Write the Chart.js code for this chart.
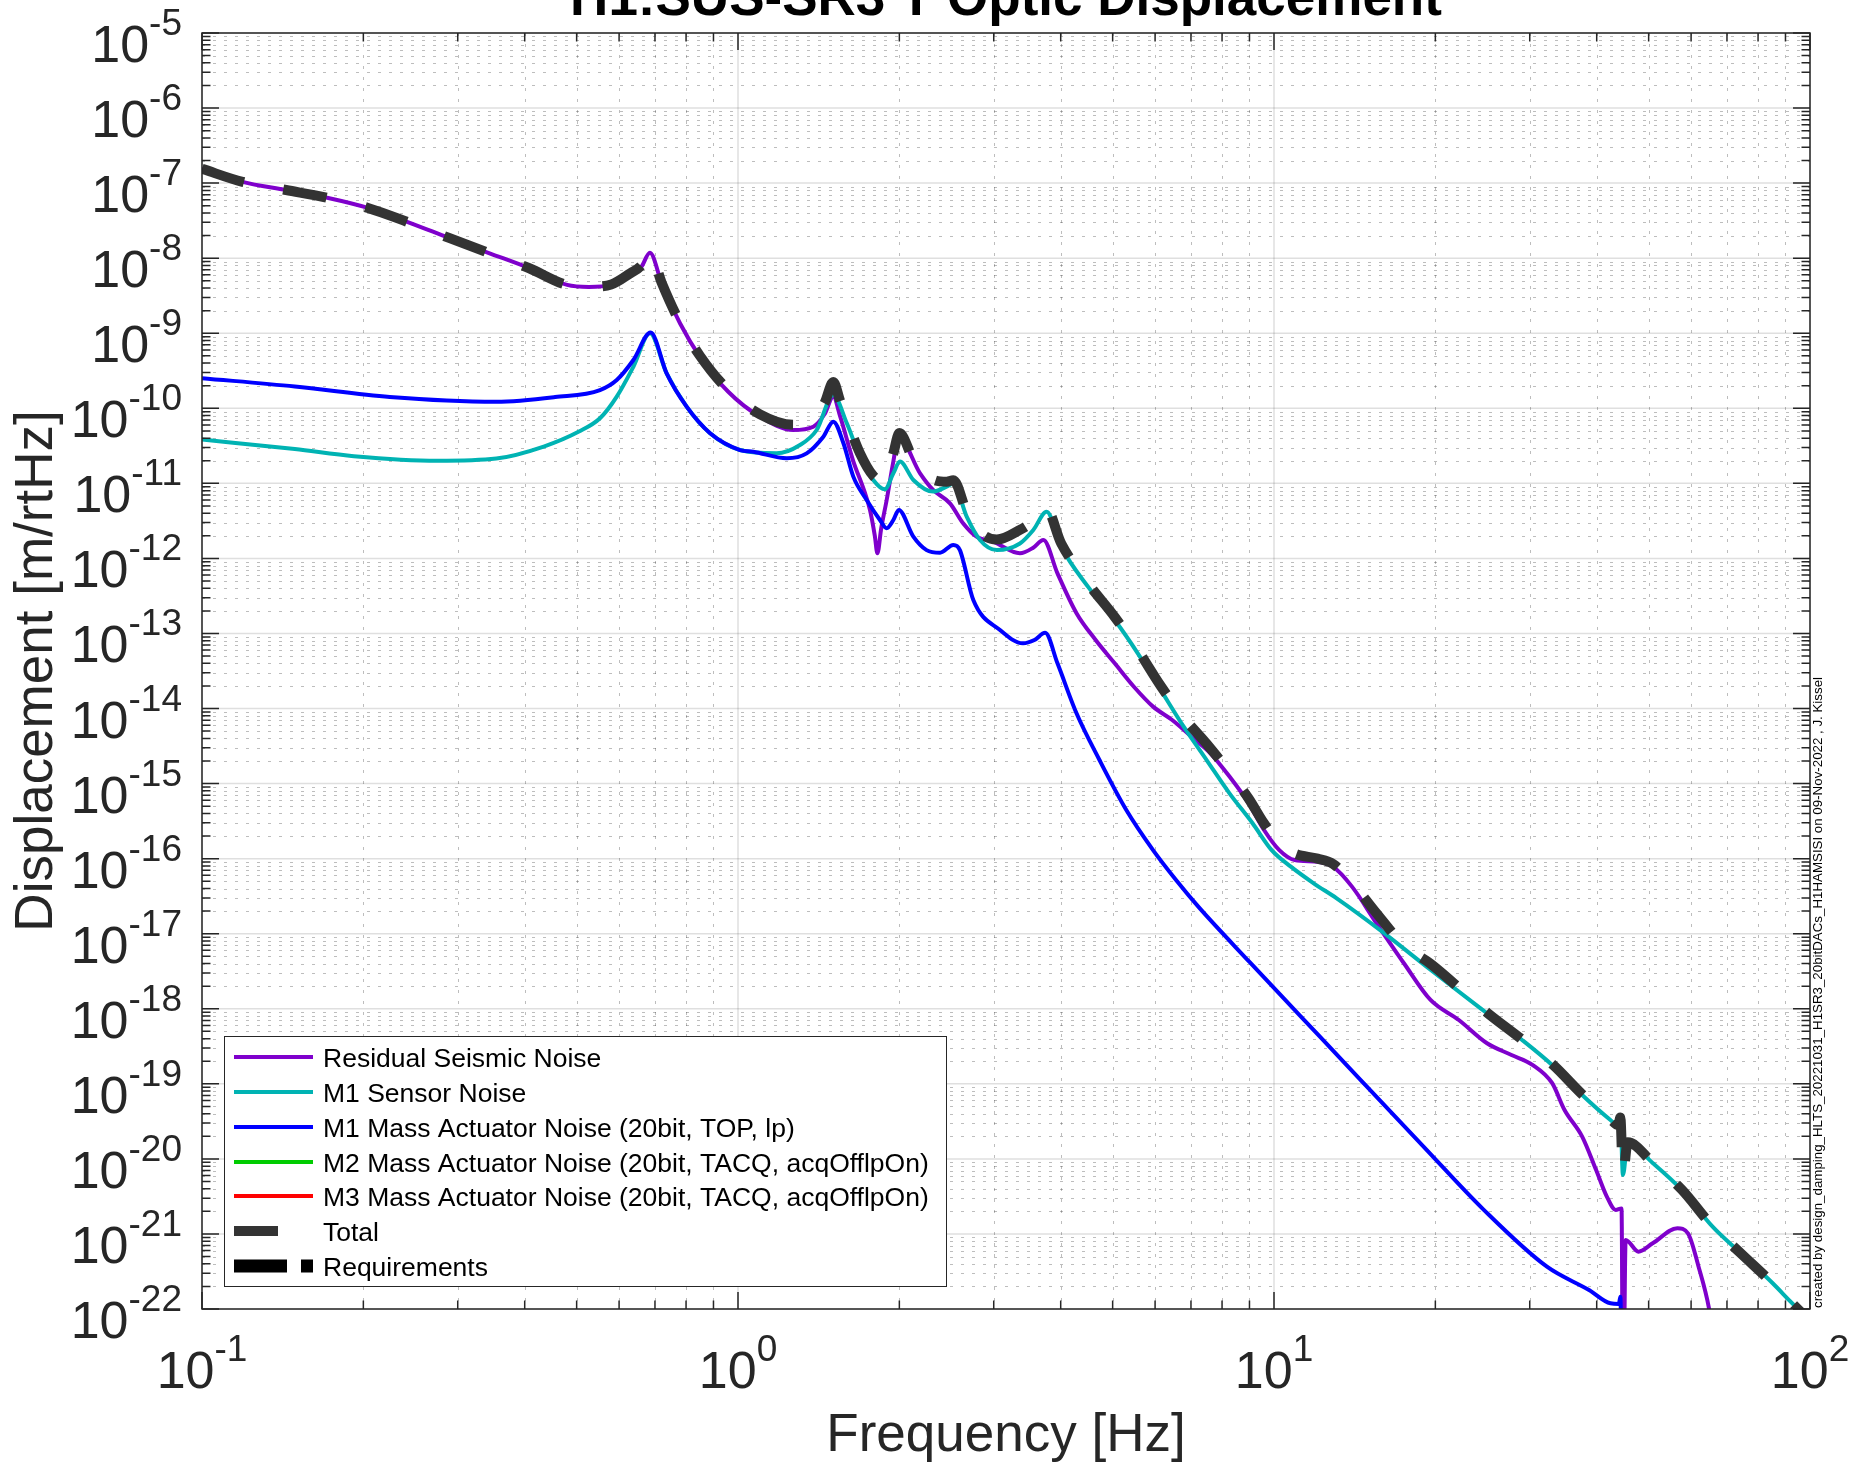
<!DOCTYPE html>
<html>
<head>
<meta charset="utf-8">
<script src="https://cdn.jsdelivr.net/npm/chart.js@4.4.0/dist/chart.umd.min.js"></script>
<style>
html,body{margin:0;padding:0;background:#ffffff;}
canvas{display:block;}
</style>
</head>
<body>
<canvas id="c" width="1853" height="1463"></canvas>
<script>
// ---------- text ----------
const titleText = 'H1:SUS-SR3 T Optic Displacement';
const xAxisLabel = 'Frequency [Hz]';
const yAxisLabel = 'Displacement [m/rtHz]';
const creditText = 'created by design_damping_HLTS_20221031_H1SR3_20bitDACs_H1HAMSISI on 09-Nov-2022 , J. Kissel';
const seriesLabels = [
  'Residual Seismic Noise',
  'M1 Sensor Noise',
  'M1 Mass Actuator Noise (20bit, TOP, lp)',
  'M2 Mass Actuator Noise (20bit, TACQ, acqOfflpOn)',
  'M3 Mass Actuator Noise (20bit, TACQ, acqOfflpOn)',
  'Total',
  'Requirements'
];
// tick label exponents (labels are 10^n)
const xTickExponents = [-1, 0, 1, 2];
const yTickExponents = [-22,-21,-20,-19,-18,-17,-16,-15,-14,-13,-12,-11,-10,-9,-8,-7,-6,-5];

// ---------- data (frequency in Hz, displacement in m/rtHz) ----------
const residualFreq = [0.1,0.119,0.1435,0.172,0.204,0.242,0.289,0.343,0.407,0.48,0.527,0.58,0.63,0.66,0.685,0.7206,0.7794,0.849,0.959,1.099,1.268,1.382,1.45,1.506,1.55,1.64,1.72,1.763,1.80,1.82,1.85,1.894,1.95,1.991,2.186,2.312,2.486,2.63,2.786,2.99,3.357,3.55,3.713,3.945,4.281,4.648,5.045,5.478,5.948,6.457,7.014,7.61,8.26,8.97,9.58,10.23,10.93,12.06,12.88,13.98,15.5,17.5,19.59,22.12,24.97,27.74,30.4,33.04,34.84,37.58,39.9,41.78,43.4,44.5,44.8,45.3,47.86,50.87,56.57,59.2,61.96,64.8,68];
const residualVal  = [1.55e-7,1.04e-7,8.09e-8,6.34e-8,4.67e-8,3.03e-8,1.86e-8,1.17e-8,7.40e-9,4.40e-9,4.13e-9,4.40e-9,6.03e-9,7.64e-9,1.18e-8,4.62e-9,1.36e-9,4.86e-10,1.66e-10,7.73e-11,5.14e-11,5.69e-11,8.32e-11,1.43e-10,7.94e-11,2.0e-11,7.94e-12,4.42e-12,2.0e-12,1.17e-12,2.51e-12,6.0e-12,2.0e-11,4.19e-11,1.36e-11,8.17e-12,5.42e-12,2.94e-12,1.95e-12,1.67e-12,1.17e-12,1.38e-12,1.76e-12,6.31e-13,1.86e-13,8.18e-14,4.0e-14,1.95e-14,1.06e-14,7.03e-15,4.22e-15,2.53e-15,1.24e-15,5.46e-16,2.41e-16,1.30e-16,9.59e-17,9.12e-17,7.82e-17,4.24e-17,1.41e-17,3.98e-18,1.31e-18,7.08e-19,3.47e-19,2.42e-19,1.78e-19,1.02e-19,4.48e-20,1.98e-20,7.11e-21,3.14e-21,2.09e-21,2.19e-21,3.16e-24,8.32e-22,5.81e-22,7.5e-22,1.19e-21,1.02e-21,3.66e-22,1.02e-22,1e-23];

const sensorFreq = [0.1,0.149,0.192,0.275,0.354,0.434,0.505,0.5527,0.594,0.638,0.685,0.736,0.802,0.887,1.0086,1.18,1.305,1.402,1.506,1.596,1.689,1.788,1.879,1.949,2.005,2.124,2.312,2.45,2.522,2.671,2.828,3.039,3.357,3.556,3.765,4.009,4.497,5.045,5.57,6.146,6.785,7.487,8.26,9.12,9.9,10.75,11.86,13.09,15.96,19.5,24.97,29.03,33.3,37.58,42.43,43.9,44.28,44.77,45.7,50.87,57.65,65.8,74.3,85.2,91.9,98];
const sensorVal  = [3.83e-11,2.86e-11,2.30e-11,2.0e-11,2.14e-11,3.09e-11,4.90e-11,7.36e-11,1.43e-10,3.58e-10,1.0e-9,2.92e-10,1.05e-10,4.65e-11,2.78e-11,2.51e-11,3.24e-11,5.14e-11,1.50e-10,6.31e-11,2.27e-11,1.11e-11,8.32e-12,1.36e-11,1.95e-11,1.11e-11,7.76e-12,9.04e-12,1.0e-11,3.60e-12,1.76e-12,1.29e-12,1.58e-12,2.39e-12,4.20e-12,1.43e-12,4.20e-13,1.51e-13,5.44e-14,1.77e-14,5.73e-15,2.06e-15,7.41e-16,2.96e-16,1.30e-16,7.82e-17,4.69e-17,2.96e-17,1.05e-17,3.39e-18,8.71e-19,3.84e-19,1.69e-19,7.11e-20,3.30e-20,2.75e-20,3.63e-20,6.10e-21,1.64e-20,8.81e-21,3.85e-21,1.25e-21,5.52e-22,2.20e-22,1.26e-22,7.94e-23];

const m1ActFreq = [0.1,0.149,0.224,0.354,0.456,0.5527,0.594,0.638,0.687,0.736,0.802,0.887,1.0086,1.068,1.233,1.343,1.443,1.506,1.573,1.641,1.738,1.84,1.894,1.949,1.995,2.124,2.248,2.382,2.522,2.594,2.748,3.082,3.402,3.573,3.741,3.945,4.281,4.725,5.302,5.948,6.565,7.244,9.0,11.18,14.47,19.01,24.6,32.3,38.7,42.43,44.0,44.28,44.6];
const m1ActVal  = [2.52e-10,1.95e-10,1.41e-10,1.22e-10,1.41e-10,1.75e-10,2.38e-10,4.40e-10,1.02e-9,2.92e-10,1.05e-10,4.65e-11,2.78e-11,2.64e-11,2.16e-11,2.51e-11,4.19e-11,6.64e-11,3.42e-11,1.23e-11,6.0e-12,3.25e-12,2.52e-12,3.25e-12,4.42e-12,1.95e-12,1.29e-12,1.19e-12,1.51e-12,1.29e-12,2.79e-13,1.11e-13,7.40e-14,8.18e-14,1.02e-13,4.0e-14,8.63e-15,2.06e-15,4.45e-16,1.30e-16,5.19e-17,2.24e-17,4.21e-18,8.13e-19,1.15e-19,1.46e-20,2.11e-21,3.66e-22,1.79e-22,1.19e-22,1.17e-22,1.46e-22,3.16e-24];

// M2 / M3 actuator noise lie below the plotted range: nothing visible
const m2ActFreq = [];
const m2ActVal  = [];
const m3ActFreq = [];
const m3ActVal  = [];

const totalFreq = [0.1,0.119,0.1435,0.172,0.204,0.242,0.289,0.343,0.407,0.48,0.527,0.58,0.63,0.66,0.685,0.7206,0.7794,0.849,0.959,1.099,1.268,1.382,1.45,1.506,1.55,1.596,1.689,1.788,1.879,1.949,2.0,2.124,2.312,2.45,2.522,2.671,2.828,3.039,3.357,3.556,3.75,4.009,4.497,5.045,5.57,6.146,6.785,7.487,8.26,8.97,9.58,10.23,10.93,12.06,12.88,13.98,15.5,17.5,19.59,24.97,29.03,33.3,37.58,42.43,43.9,44.28,44.77,45.7,50.87,57.65,65.8,74.3,85.2,91.9,98];
const totalVal  = [1.55e-7,1.04e-7,8.09e-8,6.34e-8,4.67e-8,3.03e-8,1.86e-8,1.17e-8,7.40e-9,4.40e-9,4.17e-9,4.47e-9,6.31e-9,7.94e-9,1.20e-8,4.68e-9,1.38e-9,5.01e-10,1.74e-10,8.32e-11,6.03e-11,7.59e-11,1.17e-10,2.24e-10,1.26e-10,7.08e-11,2.51e-11,1.26e-11,1.05e-11,2.51e-11,4.68e-11,2.09e-11,1.12e-11,1.05e-11,1.10e-11,4.17e-12,2.24e-12,1.78e-12,2.40e-12,3.16e-12,4.79e-12,1.58e-12,4.68e-13,1.66e-13,6.03e-14,2.0e-14,7.59e-15,3.39e-15,1.41e-15,6.31e-16,2.95e-16,1.58e-16,1.17e-16,1.0e-16,8.51e-17,4.79e-17,1.91e-17,6.92e-18,3.98e-18,8.91e-19,3.89e-19,1.74e-19,7.24e-20,3.39e-20,2.82e-20,3.55e-20,6.31e-21,1.66e-20,8.91e-21,3.89e-21,1.26e-21,5.50e-22,2.19e-22,1.26e-22,7.94e-23];

// Requirements curve does not appear inside the plotted range
const reqFreq = [];
const reqVal  = [];

// ---------- styles ----------
const seriesColors = ['#7f00cc', '#00b3b3', '#0000ff', '#00cc00', '#ff0000', '#333333', '#000000'];
const AXIS_COLOR = '#262626';
const FONT = '"Liberation Sans", Arial, Helvetica, sans-serif';

function pts(fs, vs) { return fs.map((f, i) => ({x: f, y: vs[i]})); }

const freqs = [residualFreq, sensorFreq, m1ActFreq, m2ActFreq, m3ActFreq, totalFreq, reqFreq];
const vals  = [residualVal, sensorVal, m1ActVal, m2ActVal, m3ActVal, totalVal, reqVal];
const widths = [4, 4, 4, 4, 4, 10, 13];
const dashes = [[], [], [], [], [], [44, 40], [53, 14, 12, 14]];
const orders = [6, 5, 4, 3, 2, 1, 0];

const datasets = seriesLabels.map((lab, i) => ({
  label: lab,
  data: pts(freqs[i], vals[i]),
  borderColor: seriesColors[i],
  backgroundColor: seriesColors[i],
  borderWidth: widths[i],
  borderDash: dashes[i],
  borderCapStyle: 'butt',
  borderJoinStyle: 'round',
  cubicInterpolationMode: 'monotone',
  pointRadius: 0,
  fill: false,
  order: orders[i]
}));

function minorValues(e0, e1) {
  const out = [];
  for (let e = e0; e < e1; e++) for (let k = 2; k <= 9; k++) out.push(k * Math.pow(10, e));
  return out;
}
function majorValues(e0, e1) {
  const out = [];
  for (let e = e0; e <= e1; e++) out.push(Math.pow(10, e));
  return out;
}

function drawPow(ctx, exp, x, baseY, align) {
  const baseFont = '52px ' + FONT, expFont = '37px ' + FONT;
  ctx.font = baseFont; const wb = ctx.measureText('10').width;
  ctx.font = expFont; const es = String(exp); const we = ctx.measureText(es).width;
  const tot = wb + we;
  const x0 = align === 'right' ? x - tot : x - tot / 2;
  ctx.textAlign = 'left'; ctx.textBaseline = 'alphabetic';
  ctx.font = baseFont; ctx.fillText('10', x0, baseY);
  ctx.font = expFont; ctx.fillText(es, x0 + wb, baseY - 27);
}

const matlabAxes = {
  id: 'matlabAxes',
  beforeDatasetsDraw(chart) {
    const {ctx, chartArea: a, scales: {x, y}} = chart;
    ctx.save();
    // minor dotted grid
    ctx.strokeStyle = 'rgba(38,38,38,0.30)';
    ctx.lineWidth = 1;
    ctx.setLineDash([3, 8]);
    minorValues(-1, 2).forEach(v => {
      const px = Math.round(x.getPixelForValue(v)) + 0.5;
      ctx.beginPath(); ctx.moveTo(px, a.top); ctx.lineTo(px, a.bottom); ctx.stroke();
    });
    minorValues(-22, -5).forEach(v => {
      const py = Math.round(y.getPixelForValue(v)) + 0.5;
      ctx.beginPath(); ctx.moveTo(a.left, py); ctx.lineTo(a.right, py); ctx.stroke();
    });
    // major solid grid
    ctx.setLineDash([]);
    ctx.strokeStyle = 'rgba(38,38,38,0.15)';
    ctx.lineWidth = 1.5;
    majorValues(-1, 2).forEach(v => {
      const px = x.getPixelForValue(v);
      ctx.beginPath(); ctx.moveTo(px, a.top); ctx.lineTo(px, a.bottom); ctx.stroke();
    });
    majorValues(-22, -5).forEach(v => {
      const py = y.getPixelForValue(v);
      ctx.beginPath(); ctx.moveTo(a.left, py); ctx.lineTo(a.right, py); ctx.stroke();
    });
    ctx.restore();
  },
  afterDraw(chart) {
    const {ctx, chartArea: a, scales: {x, y}} = chart;
    ctx.save();
    ctx.setLineDash([]);
    // ticks (inward, all four sides)
    ctx.strokeStyle = AXIS_COLOR;
    ctx.lineWidth = 1.5;
    const MAJ = 17, MIN = 8.5;
    const tickX = (v, len) => {
      const px = x.getPixelForValue(v);
      ctx.beginPath(); ctx.moveTo(px, a.bottom); ctx.lineTo(px, a.bottom - len);
      ctx.moveTo(px, a.top); ctx.lineTo(px, a.top + len); ctx.stroke();
    };
    const tickY = (v, len) => {
      const py = y.getPixelForValue(v);
      ctx.beginPath(); ctx.moveTo(a.left, py); ctx.lineTo(a.left + len, py);
      ctx.moveTo(a.right, py); ctx.lineTo(a.right - len, py); ctx.stroke();
    };
    minorValues(-1, 2).forEach(v => tickX(v, MIN));
    majorValues(-1, 2).forEach(v => tickX(v, MAJ));
    minorValues(-22, -5).forEach(v => tickY(v, MIN));
    majorValues(-22, -5).forEach(v => tickY(v, MAJ));
    // box
    ctx.strokeRect(a.left, a.top, a.right - a.left, a.bottom - a.top);

    // tick labels
    ctx.fillStyle = AXIS_COLOR;
    xTickExponents.forEach(n => drawPow(ctx, n, x.getPixelForValue(Math.pow(10, n)), 1388, 'center'));
    yTickExponents.forEach(n => drawPow(ctx, n, 182, y.getPixelForValue(Math.pow(10, n)) + 29, 'right'));

    // axis labels
    ctx.font = '53px ' + FONT;
    ctx.textAlign = 'center'; ctx.textBaseline = 'alphabetic';
    ctx.fillText(xAxisLabel, (a.left + a.right) / 2, 1451);
    ctx.save();
    ctx.translate(52, (a.top + a.bottom) / 2);
    ctx.rotate(-Math.PI / 2);
    ctx.fillText(yAxisLabel, 0, 0);
    ctx.restore();

    // title (partly cut by top edge)
    ctx.fillStyle = '#000000';
    ctx.font = 'bold 53px ' + FONT;
    ctx.textAlign = 'center';
    ctx.fillText(titleText, (a.left + a.right) / 2, 15);

    // credit text, vertical on the right
    ctx.save();
    ctx.font = '13px ' + FONT;
    ctx.textAlign = 'left';
    const cw = ctx.measureText(creditText).width;
    ctx.translate(1822, 1308);
    ctx.rotate(-Math.PI / 2);
    ctx.scale(631 / cw, 1);
    ctx.fillText(creditText, 0, 0);
    ctx.restore();

    // legend
    const L = 224.5, T = 1036.5, W = 722, H = 250;
    ctx.fillStyle = '#ffffff';
    ctx.fillRect(L, T, W, H);
    ctx.strokeStyle = AXIS_COLOR; ctx.lineWidth = 1;
    ctx.strokeRect(L, T, W, H);
    const rowY = [1057, 1092, 1127, 1162, 1196, 1231, 1266];
    chart.data.datasets.forEach((ds, i) => {
      const cy = rowY[i];
      ctx.strokeStyle = ds.borderColor;
      ctx.lineWidth = ds.borderWidth;
      ctx.lineCap = 'butt';
      ctx.setLineDash(ds.borderDash || []);
      ctx.beginPath(); ctx.moveTo(234, cy); ctx.lineTo(313, cy); ctx.stroke();
      ctx.setLineDash([]);
      ctx.fillStyle = '#000000';
      ctx.font = '26.5px ' + FONT;
      ctx.textAlign = 'left'; ctx.textBaseline = 'alphabetic';
      ctx.fillText(ds.label, 323, cy + 9.5);
    });
    ctx.restore();
  }
};

new Chart(document.getElementById('c'), {
  type: 'line',
  data: { datasets: datasets },
  options: {
    responsive: false,
    animation: false,
    devicePixelRatio: 1,
    layout: { padding: { left: 202, top: 33, right: 43, bottom: 154 } },
    scales: {
      x: { type: 'logarithmic', min: 0.1, max: 100, display: false },
      y: { type: 'logarithmic', min: 1e-22, max: 1e-5, display: false }
    },
    plugins: {
      legend: { display: false },
      title: { display: false },
      tooltip: { enabled: false }
    }
  },
  plugins: [matlabAxes]
});
</script>
</body>
</html>
